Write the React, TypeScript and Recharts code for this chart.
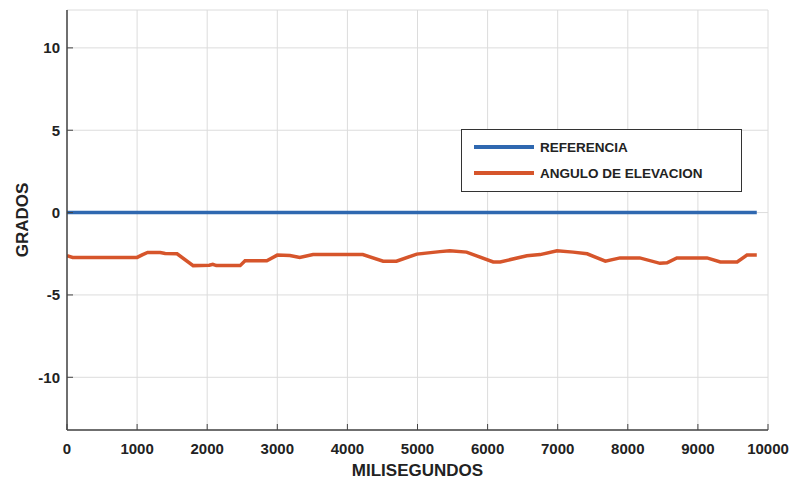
import { LineChart, Line, XAxis, YAxis, CartesianGrid, Legend, Label } from 'recharts';

const timeMs = [0, 80, 1000, 1080, 1150, 1330, 1400, 1570, 1800, 2030, 2080, 2130, 2470, 2540, 2850, 3000, 3180, 3320, 3510, 4220, 4510, 4700, 4990, 5320, 5460, 5700, 6080, 6180, 6560, 6750, 6990, 7220, 7420, 7680, 7890, 8170, 8460, 8560, 8700, 9130, 9320, 9560, 9700, 9840];
const elevation = [-2.62, -2.72, -2.72, -2.55, -2.42, -2.42, -2.48, -2.5, -3.22, -3.2, -3.14, -3.22, -3.22, -2.92, -2.92, -2.58, -2.6, -2.72, -2.55, -2.55, -2.95, -2.95, -2.52, -2.37, -2.32, -2.4, -3.0, -3.0, -2.62, -2.55, -2.32, -2.4, -2.5, -2.95, -2.75, -2.75, -3.08, -3.05, -2.75, -2.75, -3.0, -3.0, -2.58, -2.58];
const refTimeMs = [0, 9840];
const refValues = [0, 0];

const xTicks = [0, 1000, 2000, 3000, 4000, 5000, 6000, 7000, 8000, 9000, 10000];
const yTicks = [-10, -5, 0, 5, 10];
const legendOrder = ['REFERENCIA', 'ANGULO DE ELEVACION'];

const angleData = timeMs.map((t, i) => ({ t, v: elevation[i] }));
const refData = refTimeMs.map((t, i) => ({ t, v: refValues[i] }));

const BLUE = '#2f68b0';
const ORANGE = '#d6552b';
const TEXT = '#222';
const SANS = '"Liberation Sans", Arial, sans-serif';

const renderLegend = (props: any) => {
  const items = [...(props.payload || [])].sort(
    (a: any, b: any) => legendOrder.indexOf(a.value) - legendOrder.indexOf(b.value)
  );
  return (
    <div style={{ background: '#fff', border: '1.5px solid #333', width: 279, height: 57, paddingTop: 4 }}>
      {items.map((it: any) => (
        <div key={it.value} style={{ display: 'flex', alignItems: 'center', height: 26, fontFamily: SANS, fontWeight: 'bold', fontSize: 13.5, color: TEXT }}>
          <span style={{ display: 'inline-block', width: 60, height: 4, background: it.color, marginLeft: 12, marginRight: 6 }} />
          {it.value}
        </div>
      ))}
    </div>
  );
};

const App = () => {
  return (
    <div style={{ position: 'absolute', left: 0, top: 0, background: '#fff' }}>
      <LineChart width={790} height={480} margin={{ top: 10, right: 22, bottom: 0, left: 0 }}>
        <CartesianGrid xAxisId="b" yAxisId="l" stroke="#dcdcdc" strokeWidth={1} />
        <XAxis
          xAxisId="b"
          dataKey="t"
          type="number"
          domain={[0, 10000]}
          ticks={xTicks}
          height={50}
          allowDataOverflow
          axisLine={{ stroke: '#444', strokeWidth: 1.5 }}
          tickLine={{ stroke: '#444' }}
          tickSize={-6}
          tickMargin={19}
          tick={{ fill: TEXT, fontFamily: SANS, fontWeight: 'bold', fontSize: 15 }}
        >
          <Label value="MILISEGUNDOS" position="insideBottom" offset={4} style={{ fill: TEXT, fontFamily: SANS, fontWeight: 'bold', fontSize: 17 }} />
        </XAxis>
        <XAxis xAxisId="top" orientation="top" type="number" domain={[0, 10000]} height={0} tick={false} tickLine={false} axisLine={{ stroke: '#444', strokeWidth: 1.5 }} />
        <YAxis
          yAxisId="l"
          type="number"
          domain={[-13.2, 12.3]}
          ticks={yTicks}
          width={67}
          allowDataOverflow
          axisLine={{ stroke: '#444', strokeWidth: 1.5 }}
          tickLine={{ stroke: '#444' }}
          tickSize={-6}
          tickMargin={13}
          tick={{ fill: TEXT, fontFamily: SANS, fontWeight: 'bold', fontSize: 15 }}
        >
          <Label
            content={(p: any) => {
              const vb = p.viewBox;
              const cx = 22;
              const cy = vb.y + vb.height / 2;
              return (
                <text x={cx} y={cy} transform={`rotate(-90 ${cx} ${cy})`} textAnchor="middle" dominantBaseline="central" fill={TEXT} fontFamily={SANS} fontWeight="bold" fontSize={17}>
                  GRADOS
                </text>
              );
            }}
          />
        </YAxis>
        <YAxis yAxisId="r" orientation="right" type="number" domain={[-13.2, 12.3]} width={0} tick={false} tickLine={false} axisLine={{ stroke: '#444', strokeWidth: 1.5 }} />
        <Legend
          layout="horizontal"
          align="center"
          verticalAlign="middle"
          content={renderLegend}
          wrapperStyle={{ position: 'absolute', left: 461, top: 129, width: 282 }}
        />
        <Line xAxisId="b" yAxisId="l" data={refData} dataKey="v" name="REFERENCIA" type="linear" stroke={BLUE} strokeWidth={3.5} dot={false} isAnimationActive={false} />
        <Line xAxisId="b" yAxisId="l" data={angleData} dataKey="v" name="ANGULO DE ELEVACION" type="linear" stroke={ORANGE} strokeWidth={3.5} dot={false} isAnimationActive={false} />
      </LineChart>
    </div>
  );
};

export default App;
